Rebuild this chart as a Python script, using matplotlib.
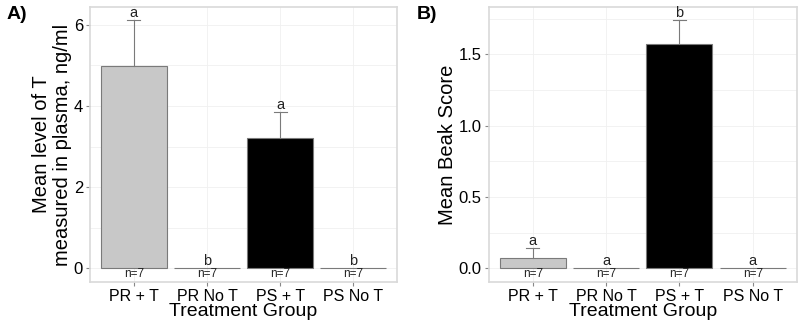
import numpy as np
import matplotlib.pyplot as plt
from matplotlib.ticker import MultipleLocator

groups = ['PR + T', 'PR No T', 'PS + T', 'PS No T']
fills = ['#c8c8c8', '#c8c8c8', '#000000', '#000000']
n_labels = ['n=7', 'n=7', 'n=7', 'n=7']

# panel A: plasma T
t_mean = [4.98, 0.0, 3.22, 0.0]
t_err = [1.14, 0.0, 0.64, 0.0]
t_letters = ['a', 'b', 'a', 'b']

# panel B: beak score
beak_mean = [0.07, 0.0, 1.572, 0.0]
beak_err = [0.07, 0.0, 0.168, 0.0]
beak_letters = ['a', 'a', 'b', 'a']

plt.rcParams['font.family'] = ['Liberation Sans', 'DejaVu Sans']

fig = plt.figure(figsize=(8, 3.27), dpi=100)
axA = fig.add_axes([0.1125, 0.1376, 0.384, 0.841])
axB = fig.add_axes([0.611, 0.1376, 0.385, 0.841])


def draw_panel(ax, means, errs, letters, ylim, major, minor, ylabel, tag, tagx):
    x = np.arange(1, len(groups) + 1)
    ax.bar(x, means, width=0.9, color=fills, edgecolor='#7a7a7a', linewidth=0.8, zorder=2)
    # only the upper half of the error bar, like the original
    for xi, m, e, lab, nl in zip(x, means, errs, letters, n_labels):
        if e > 0:
            ax.plot([xi, xi], [m, m + e], color='#7a7a7a', lw=0.8, zorder=3)
            ax.plot([xi - 0.09, xi + 0.09], [m + e, m + e], color='#7a7a7a', lw=0.8, zorder=3)
        ax.text(xi, m + e, lab, ha='center', va='bottom', fontsize=10.5, color='#222222')
        ax.text(xi, 0, nl, ha='center', va='top', fontsize=8.5, color='#222222')
    ax.set_xlim(0.4, 4.6)
    ax.set_ylim(*ylim)
    ax.set_xticks(x)
    ax.set_xticklabels(groups, fontsize=11.5)
    ax.yaxis.set_major_locator(MultipleLocator(major))
    ax.yaxis.set_minor_locator(MultipleLocator(minor))
    ax.tick_params(axis='both', which='major', length=3, color='#888888', labelsize=12, pad=2)
    ax.tick_params(axis='x', which='major', labelsize=11.5)
    ax.tick_params(axis='y', which='minor', length=0)
    ax.grid(which='both', color='#f0f0f0', lw=0.6, zorder=0)
    ax.set_axisbelow(True)
    for s in ax.spines.values():
        s.set_color('#d9d9d9')
        s.set_linewidth(1.2)
    ax.set_xlabel('Treatment Group', fontsize=14, labelpad=-1)
    ax.set_ylabel(ylabel, fontsize=14.5, labelpad=1, linespacing=1.15)
    fig.text(tagx, 0.955, tag, fontsize=14, fontweight='bold', va='center', ha='left')


draw_panel(axA, t_mean, t_err, t_letters, (-0.34, 6.44), 2, 1,
           'Mean level of T\nmeasured in plasma, ng/ml', 'A)', 0.008)
axA.yaxis.set_major_formatter(plt.FuncFormatter(lambda v, p: f'{v:.0f}'))
draw_panel(axB, beak_mean, beak_err, beak_letters, (-0.096, 1.831), 0.5, 0.25,
           'Mean Beak Score', 'B)', 0.521)
axB.yaxis.set_major_formatter(plt.FuncFormatter(lambda v, p: f'{v:.1f}'))

fig.savefig('out.png', dpi=100)
